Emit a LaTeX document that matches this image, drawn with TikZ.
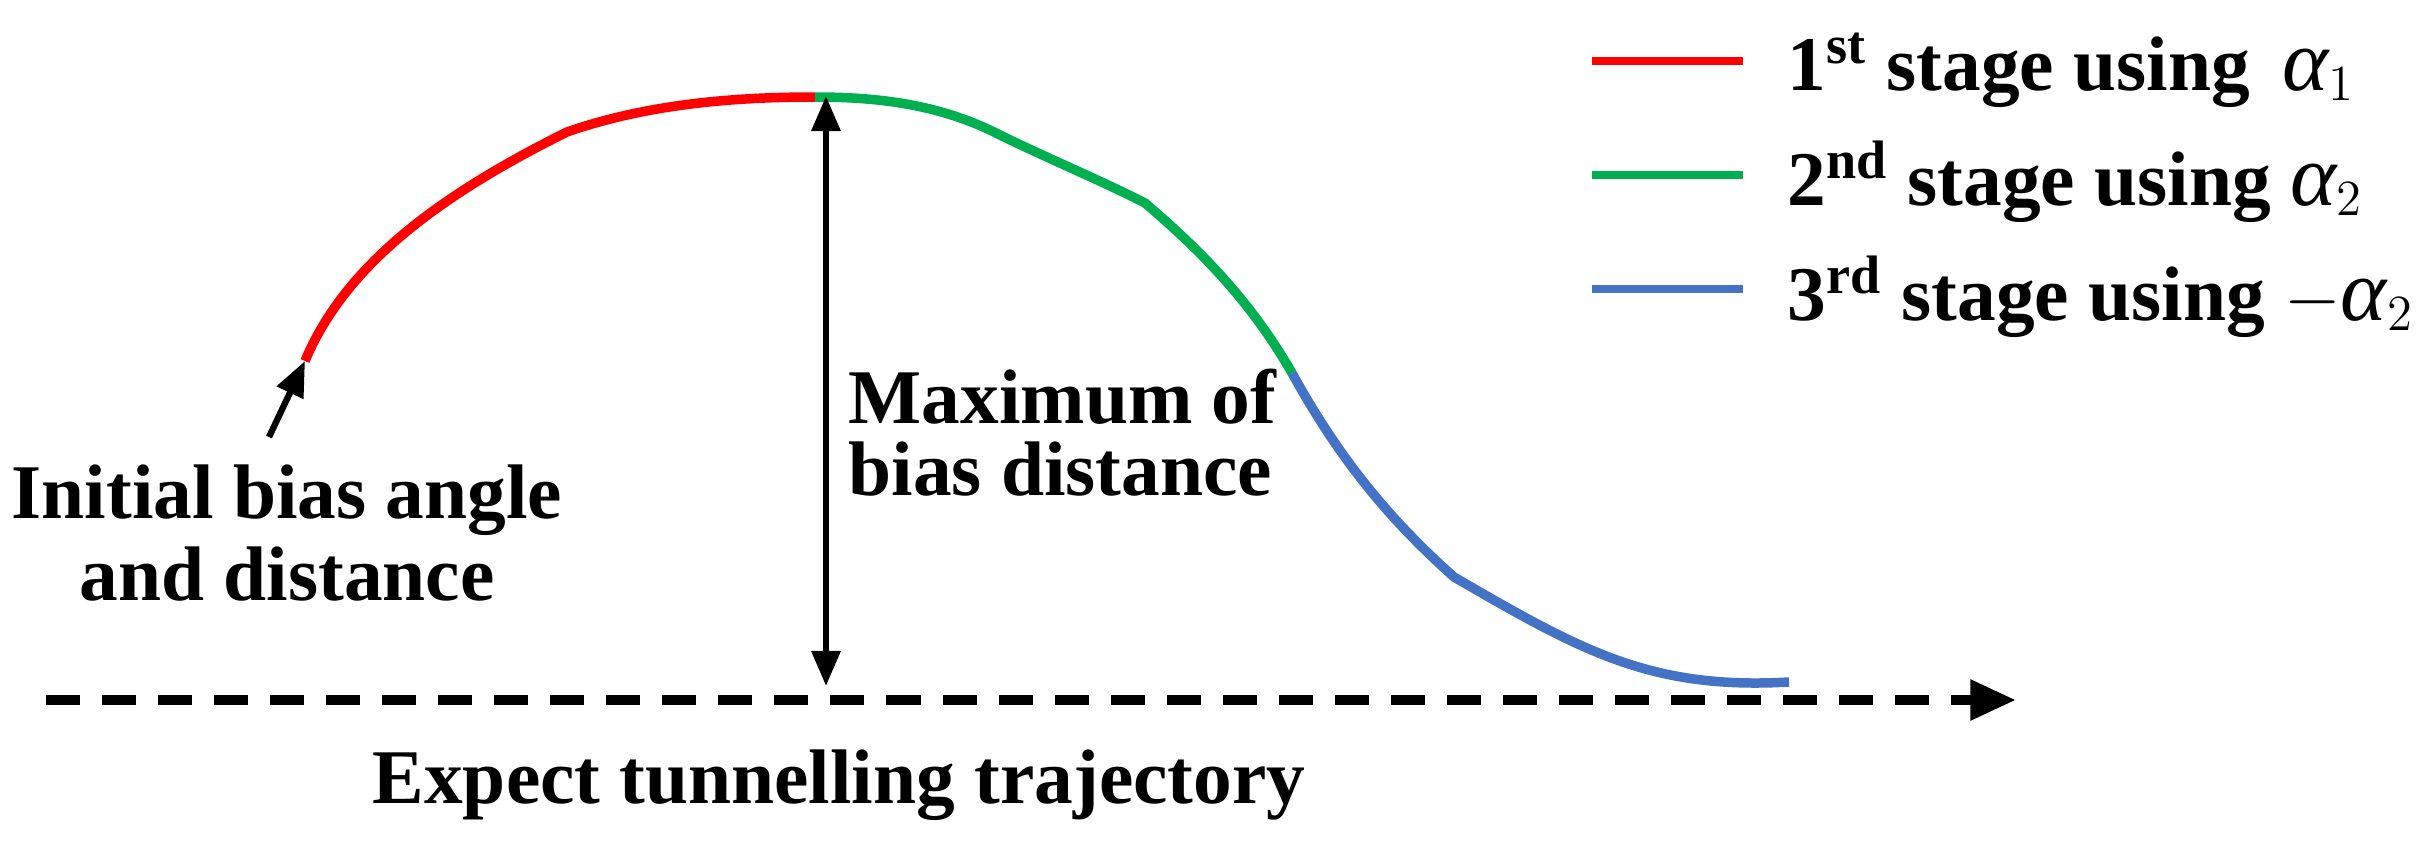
\documentclass[tikz,border=0pt]{standalone}
\usepackage{fontspec}
\setmainfont{Liberation Serif}
\newfontfamily\grk{Liberation Serif}
\usetikzlibrary{arrows.meta}
\definecolor{cred}{RGB}{255,0,0}
\definecolor{cgreen}{RGB}{0,176,80}
\definecolor{cblue}{RGB}{68,114,196}
\newcommand{\alf}[1]{{\grk\mdseries\itshape\fontsize{25}{26}\selectfont α}${}_{#1}$}
\begin{document}
\begin{tikzpicture}[x=0.01cm,y=-0.01cm,
  lbl/.style={font=\fontsize{22}{24}\selectfont\bfseries, inner sep=0pt, anchor=base west},
  lblc/.style={font=\fontsize{22}{24}\selectfont\bfseries, inner sep=0pt, anchor=base},
  seg/.style={line width=2.7pt},
  legline/.style={line width=2.4pt},
  blk/.style={line width=1.8pt, black},
  tipa/.style={-{Triangle[length=10pt,width=8pt]}}]
\useasboundingbox (0,0) rectangle (2429,848);
% key points
\coordinate (s0) at (305,361);
\coordinate (k1) at (567,132);
\coordinate (top) at (815,97);
\coordinate (k2) at (1145,203);
\coordinate (j23) at (1292,373);
\coordinate (k3) at (1454,577);
\coordinate (e) at (1789,682);
% trajectory
\draw[seg,cred] (s0) .. controls (345,265) and (440,195) .. (k1)
  .. controls (650,103) and (740,97) .. (top);
\draw[seg,cgreen] (top) .. controls (880,97) and (940,105) .. (996,133)
  .. controls (1040,155) and (1100,180) .. (k2) .. controls (1200,250) and (1250,300) .. (j23);
\draw[seg,cblue] (j23) .. controls (1340,460) and (1390,520) .. (k3)
  .. controls (1580,650) and (1650,690) .. (e);
% expected trajectory
\coordinate (d0) at (46,700);
\coordinate (d1) at (2016,700);
\draw[line width=2.8pt, dash pattern=on 0.34cm off 0.22cm, -{Triangle[length=13pt,width=11pt]}] (d0) -- (d1);
% maximum arrow
\coordinate (mb) at (826,686);
\coordinate (mt) at (826,96);
\draw[blk,{Triangle[length=10pt,width=8pt]}-{Triangle[length=10pt,width=8pt]}] (mb) -- (mt);
% initial arrow
\coordinate (ia) at (269,437);
\draw[blk,tipa] (ia) -- (s0);
% labels
\node[lblc] (init1) at (287,518) {Initial bias angle};
\node[lblc] (init2) at (287,600) {and distance};
\node[lbl] (max1) at (848,423) {Maximum of};
\node[lbl] (max2) at (848,495) {bias distance};
\node[lbl] (exp) at (372,803) {Expect tunnelling trajectory};
% legend
\coordinate (l1a) at (1592,61); \coordinate (l1b) at (1743,61);
\coordinate (l2a) at (1592,175); \coordinate (l2b) at (1743,175);
\coordinate (l3a) at (1592,289); \coordinate (l3b) at (1743,289);
\draw[legline,cred] (l1a) -- (l1b);
\draw[legline,cgreen] (l2a) -- (l2b);
\draw[legline,cblue] (l3a) -- (l3b);
\node[lbl] (t1) at (1787,90) {1\textsuperscript{st} stage using\, \alf{1}};
\node[lbl] (t2) at (1787,205) {2\textsuperscript{nd} stage using \alf{2}};
\node[lbl] (t3) at (1787,320) {3\textsuperscript{rd} stage using $-$\alf{2}};
\end{tikzpicture}
\end{document}
